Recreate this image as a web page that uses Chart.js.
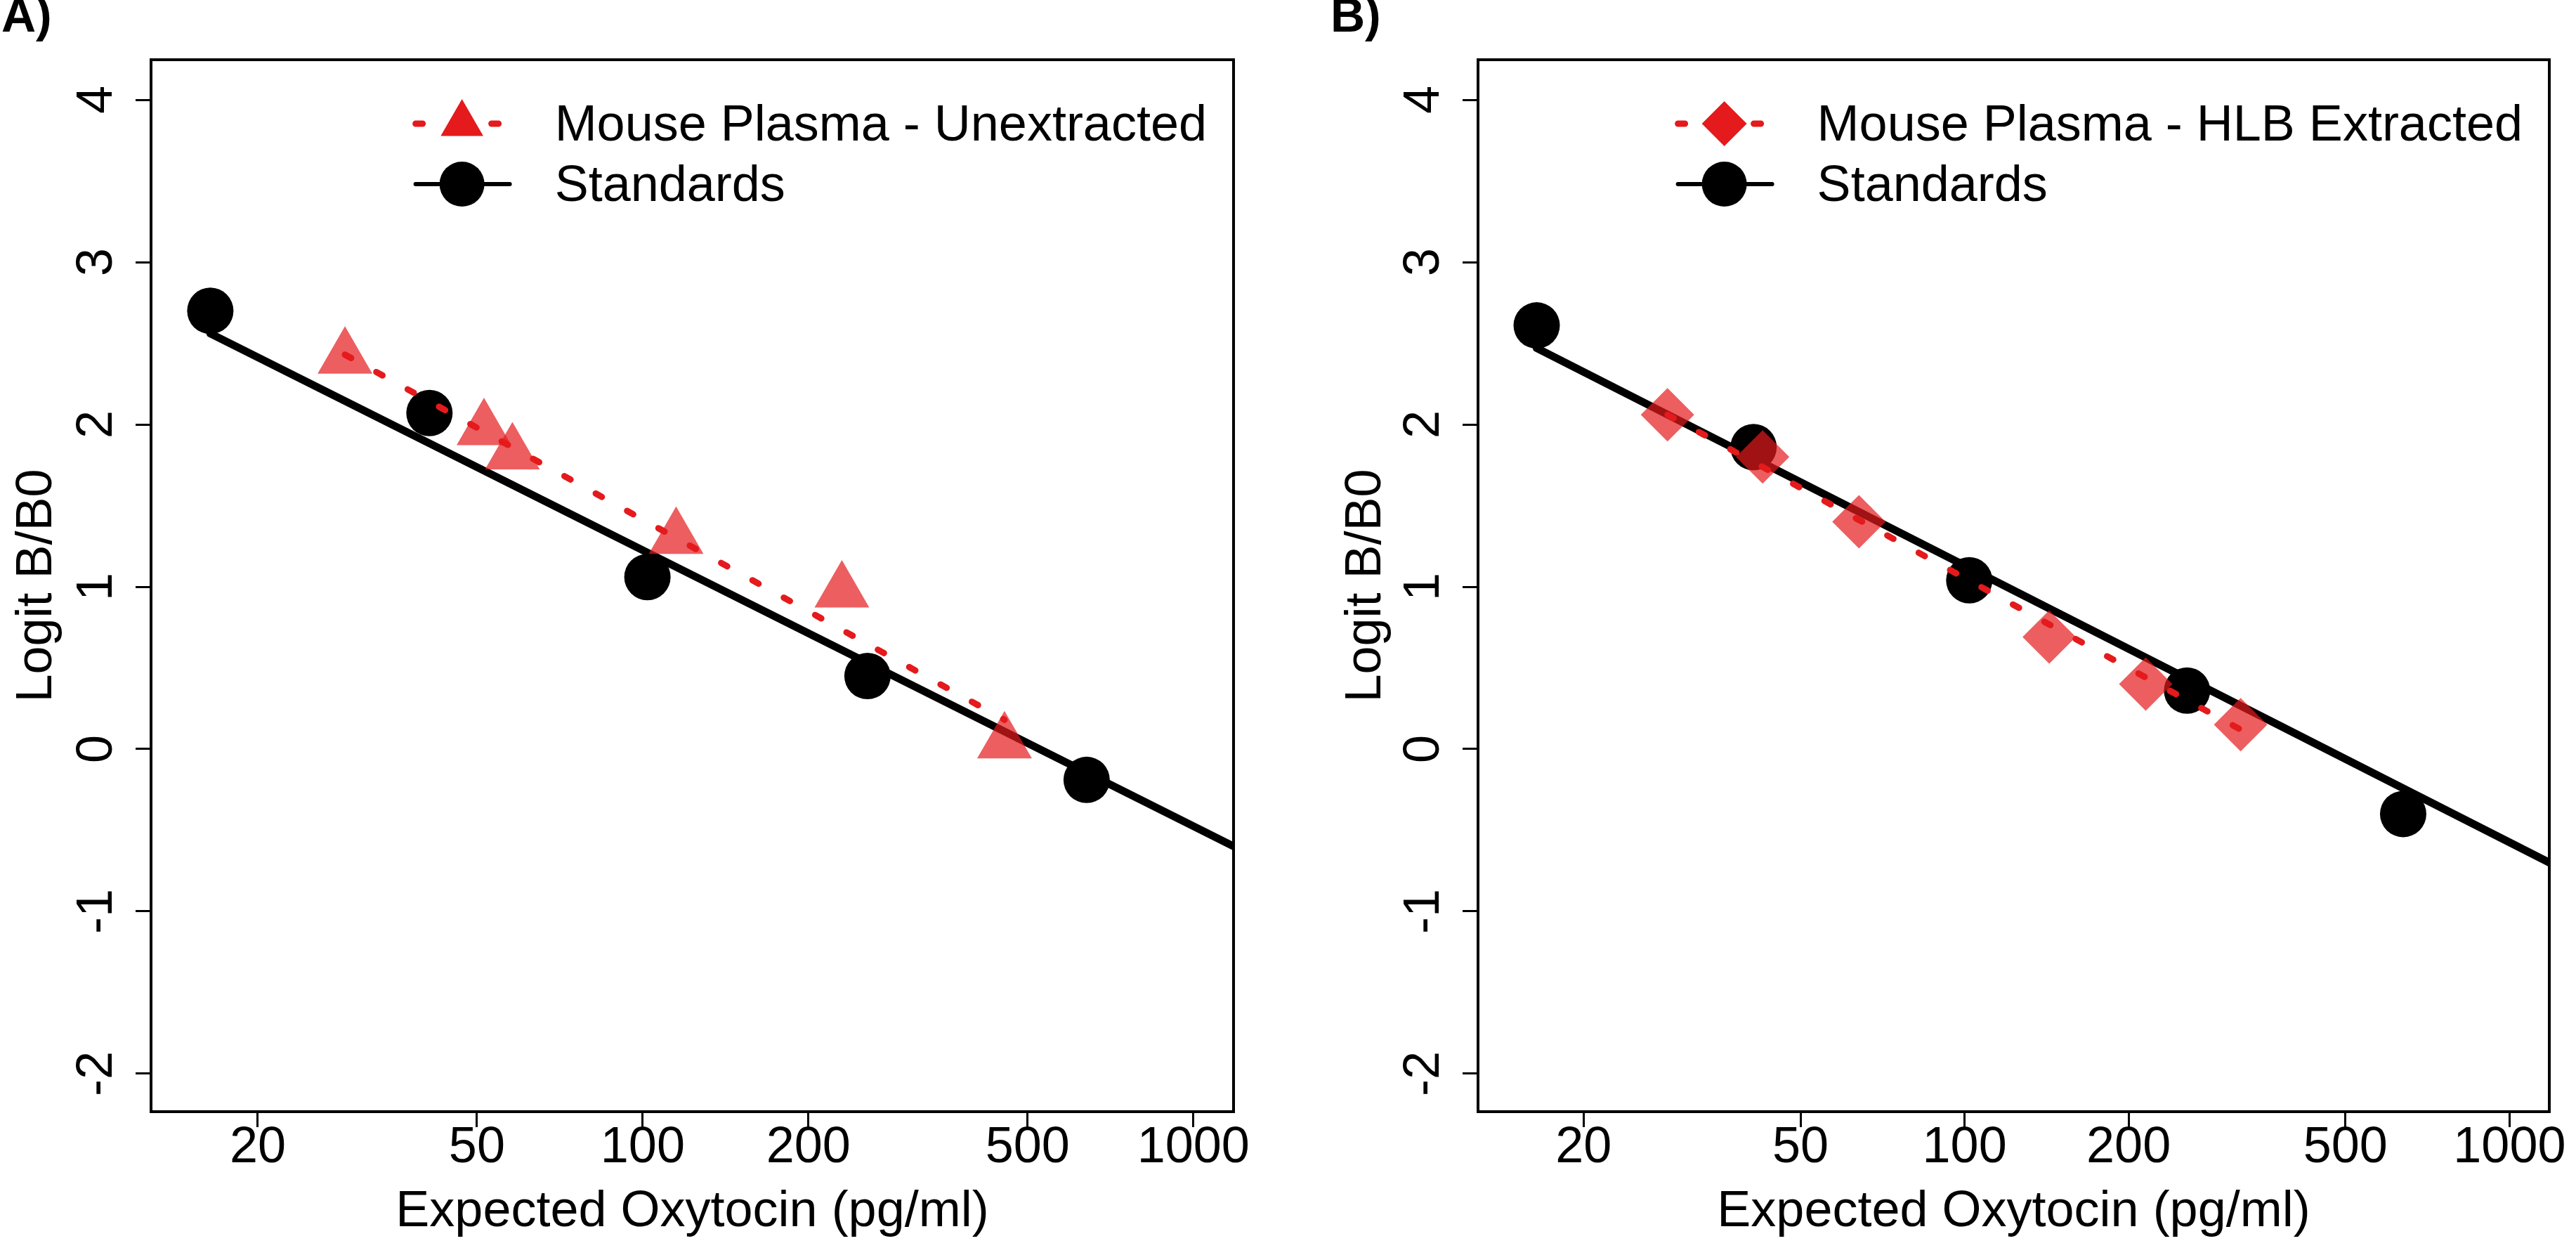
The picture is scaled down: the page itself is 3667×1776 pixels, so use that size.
<!DOCTYPE html>
<html>
<head>
<meta charset="utf-8">
<script src="https://cdn.jsdelivr.net/npm/chart.js@4.4.1/dist/chart.umd.min.js"></script>
<style>
  body { margin: 0; background: #fff; }
  canvas { position: absolute; top: 0; }
</style>
</head>
<body>
<canvas id="panelA" width="1889" height="1776" style="left:0px"></canvas>
<canvas id="panelB" width="1778" height="1776" style="left:1889px"></canvas>
<script>
const xTicks = [20, 50, 100, 200, 500, 1000];
const yTicks = [-2, -1, 0, 1, 2, 3, 4];

// A) unextracted plasma
const namesA = ['Mouse Plasma - Unextracted', 'Standards'];
const stdConcA = [16.4, 41, 102, 256, 640];
const stdLogitA = [2.70, 2.07, 1.06, 0.45, -0.19];
const stdFitConcA = [16.4, 1200];
const stdFitLogitA = [2.56, -0.61];
const plasmaConcA = [28.8, 51.5, 58, 115, 230, 454];
const plasmaLogitA = [2.41, 1.97, 1.82, 1.30, 0.97, 0.04];
const plasmaFitConcA = [28.8, 454];
const plasmaFitLogitA = [2.43, 0.18];

// B) HLB extracted plasma
const namesB = ['Mouse Plasma - HLB Extracted', 'Standards'];
const stdConcB = [16.4, 41, 102, 256, 638];
const stdLogitB = [2.61, 1.86, 1.04, 0.36, -0.40];
const stdFitConcB = [16.4, 1200];
const stdFitLogitB = [2.47, -0.71];
const plasmaConcB = [28.5, 42.6, 64, 143, 215, 321];
const plasmaLogitB = [2.06, 1.80, 1.40, 0.69, 0.40, 0.15];
const plasmaFitConcB = [28.5, 321];
const plasmaFitLogitB = [2.06, 0.12];

const RED = '#E41A1C';
const RED_T = 'rgba(228, 26, 28, 0.7)';
const FONT = '"Liberation Sans", Arial, sans-serif';
const TXT = 72;

Chart.defaults.font.family = FONT;
Chart.defaults.color = '#000';

function pts(xs, ys) {
    return xs.map((x, i) => ({ x: x, y: ys[i] }));
}

// box round the plot + R style legend (line segment, symbol, text)
const boxAndLegend = {
    id: 'boxAndLegend',
    afterDatasetsDraw(chart, args, opts) {
        const ctx = chart.ctx;
        const a = chart.chartArea;
        ctx.save();
        ctx.strokeStyle = '#000';
        ctx.lineWidth = 4;
        ctx.strokeRect(a.left, a.top, a.right - a.left, a.bottom - a.top);

        ctx.font = TXT + 'px ' + FONT;
        const widths = opts.entries.map(e => ctx.measureText(e.label).width);
        const textX = a.right - 38 - Math.max(...widths);
        const symX = textX - 132;
        opts.entries.forEach((e, i) => {
            const y = a.top + 91 + i * 86;
            ctx.strokeStyle = e.color;
            ctx.lineWidth = e.lineWidth;
            ctx.lineCap = 'round';
            ctx.setLineDash(e.dash);
            ctx.beginPath();
            ctx.moveTo(symX - 66, y);
            ctx.lineTo(symX + 68, y);
            ctx.stroke();
            ctx.setLineDash([]);
            ctx.fillStyle = e.color;
            Chart.helpers.drawPoint(ctx, { pointStyle: e.pointStyle, radius: e.radius, rotation: 0, borderWidth: 0 }, symX, y);
            ctx.fillStyle = '#000';
            ctx.textAlign = 'left';
            ctx.textBaseline = 'middle';
            ctx.fillText(e.label, textX, y + 4);
        });
        ctx.restore();
    }
};

function makePanel(id, p) {
    const axisGrid = { drawOnChartArea: false, tickLength: 22, lineWidth: 3, color: '#000' };
    return new Chart(document.getElementById(id), {
        type: 'scatter',
        data: {
            datasets: [
                {
                    label: p.names[0] + ' fit',
                    data: pts(p.plasmaFitX, p.plasmaFitY),
                    showLine: true,
                    borderColor: RED,
                    borderWidth: 9,
                    borderDash: [10, 41],
                    borderCapStyle: 'round',
                    pointRadius: 0,
                    clip: 0
                },
                {
                    label: p.names[0],
                    data: pts(p.plasmaX, p.plasmaY),
                    pointStyle: p.marker,
                    pointRadius: p.markerRadius,
                    backgroundColor: RED_T,
                    borderWidth: 0
                },
                {
                    label: p.names[1],
                    data: pts(p.stdX, p.stdY),
                    pointStyle: 'circle',
                    pointRadius: 33,
                    backgroundColor: '#000',
                    borderWidth: 0
                },
                {
                    label: p.names[1] + ' fit',
                    data: pts(p.stdFitX, p.stdFitY),
                    showLine: true,
                    borderColor: '#000',
                    borderWidth: 11,
                    borderCapStyle: 'round',
                    pointRadius: 0,
                    clip: 0
                }
            ]
        },
        options: {
            responsive: false,
            animation: false,
            events: [],
            layout: { padding: { left: p.padLeft, right: p.padRight, top: 0, bottom: 0 } },
            plugins: {
                legend: { display: false },
                tooltip: { enabled: false },
                title: {
                    display: true,
                    text: p.tag,
                    align: 'start',
                    color: '#000',
                    font: { size: 68, weight: 'bold', lineHeight: 1 },
                    padding: { top: -8, bottom: 25 }
                },
                boxAndLegend: {
                    entries: [
                        { label: p.names[0], pointStyle: p.marker, radius: p.legendRadius, color: RED, lineWidth: 9, dash: [10, 44] },
                        { label: p.names[1], pointStyle: 'circle', radius: 32, color: '#000', lineWidth: 6, dash: [] }
                    ]
                }
            },
            scales: {
                x: {
                    type: 'logarithmic',
                    min: 12.8,
                    max: 1183,
                    bounds: 'data',
                    afterBuildTicks: s => { s.ticks = xTicks.map(v => ({ value: v })); },
                    afterFit: s => { s.height = 194; },
                    grid: axisGrid,
                    border: { display: false },
                    ticks: {
                        autoSkip: false,
                        maxRotation: 0,
                        padding: -6,
                        font: { size: TXT, lineHeight: 1 },
                        callback: v => String(v)
                    },
                    title: {
                        display: true,
                        text: 'Expected Oxytocin (pg/ml)',
                        font: { size: TXT, lineHeight: 1.2 },
                        padding: { top: 0, bottom: 8 }
                    }
                },
                y: {
                    type: 'linear',
                    min: -2.234,
                    max: 4.247,
                    bounds: 'data',
                    afterBuildTicks: s => { s.ticks = yTicks.map(v => ({ value: v })); },
                    afterFit: s => { s.width = 215 - p.padLeft; },
                    grid: axisGrid,
                    border: { display: false },
                    ticks: {
                        autoSkip: false,
                        minRotation: 90,
                        maxRotation: 90,
                        crossAlign: 'center',
                        padding: 22,
                        font: { size: TXT, lineHeight: 1.2 }
                    },
                    title: {
                        display: true,
                        text: 'Logit B/B0',
                        font: { size: TXT, lineHeight: 1.2 },
                        padding: { top: 8, bottom: 0 }
                    }
                }
            }
        },
        plugins: [boxAndLegend]
    });
}

makePanel('panelA', {
    tag: 'A)', names: namesA, padLeft: 2, padRight: 133,
    marker: 'triangle', markerRadius: 45, legendRadius: 35,
    stdX: stdConcA, stdY: stdLogitA, stdFitX: stdFitConcA, stdFitY: stdFitLogitA,
    plasmaX: plasmaConcA, plasmaY: plasmaLogitA, plasmaFitX: plasmaFitConcA, plasmaFitY: plasmaFitLogitA
});

makePanel('panelB', {
    tag: 'B)', names: namesB, padLeft: 5, padRight: 21,
    marker: 'rectRot', markerRadius: 38, legendRadius: 32,
    stdX: stdConcB, stdY: stdLogitB, stdFitX: stdFitConcB, stdFitY: stdFitLogitB,
    plasmaX: plasmaConcB, plasmaY: plasmaLogitB, plasmaFitX: plasmaFitConcB, plasmaFitY: plasmaFitLogitB
});
</script>
</body>
</html>
